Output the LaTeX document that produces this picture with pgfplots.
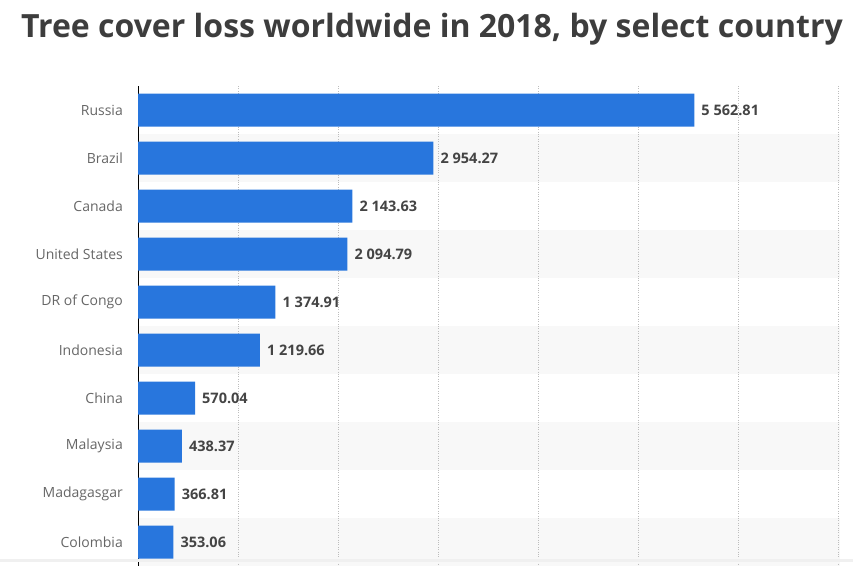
\documentclass[border=0pt]{standalone}
\usepackage{pgfplots}
\usepackage{pgfplotstable}
\pgfplotsset{compat=1.18}
\usepackage{fontspec}
\setmainfont{Open Sans}
\definecolor{barblue}{HTML}{2876DD}
\definecolor{band}{HTML}{F8F8F8}
\definecolor{gridc}{HTML}{BDBDBD}
\definecolor{labc}{HTML}{666666}
\definecolor{valc}{HTML}{444444}
\definecolor{titc}{HTML}{3D3D3D}
\pgfplotstableread[col sep=comma]{
v,r,lab
5562.81,0,5 562.81
2954.27,1,2 954.27
2143.63,2,2 143.63
2094.79,3,2 094.79
1374.91,4,1 374.91
1219.66,5,1 219.66
570.04,6,570.04
438.37,7,438.37
366.81,8,366.81
353.06,9,353.06
}\losstable
\begin{document}
\begin{tikzpicture}
\path[use as bounding box] (0pt,0pt) rectangle (853pt,572pt);
\node[anchor=base, font=\fontsize{32}{36}\selectfont\bfseries, text=titc, inner sep=0pt] at (432pt,534pt) {Tree cover loss worldwide in 2018, by select country};
% alternating row bands (rows are 48pt high, plot area 138..838 x 6..486)
\foreach \r in {1,3,5,7,9} {
  \fill[band] (138pt,{(486-48*\r)*1pt}) rectangle (840pt,{(486-48*(\r+1))*1pt});
}
\begin{axis}[
  at={(138pt,6pt)}, anchor=south west,
  scale only axis, width=700pt, height=480pt,
  xbar, bar width=33pt, bar shift=0pt,
  xmin=0, xmax=7000,
  ymin=-0.5, ymax=9.5, y dir=reverse,
  axis x line*=bottom, axis y line*=left,
  x axis line style={draw=none},
  y axis line style={black, line width=1pt, -},
  xtick={1000,2000,...,7000}, xticklabels={},
  xmajorgrids, major grid style={dotted, gridc, line width=1pt},
  ytick={0,...,9},
  yticklabels={Russia,Brazil,Canada,United States,DR of Congo,Indonesia,China,Malaysia,Madagasgar,Colombia},
  yticklabel style={font=\fontsize{14}{16}\selectfont, text=labc, inner sep=0pt, xshift=-15pt},
  major tick length=0pt,
  point meta=explicit symbolic,
  nodes near coords,
  nodes near coords style={anchor=west, inner sep=0pt, xshift=7pt, font=\fontsize{14.5}{16}\selectfont\bfseries, text=valc},
]
\addplot[fill=barblue, draw=none] table[x=v, y=r, meta=lab] {\losstable};
\end{axis}
\fill[black!6] (0pt,10pt) rectangle (853pt,13pt);
\end{tikzpicture}
\end{document}
